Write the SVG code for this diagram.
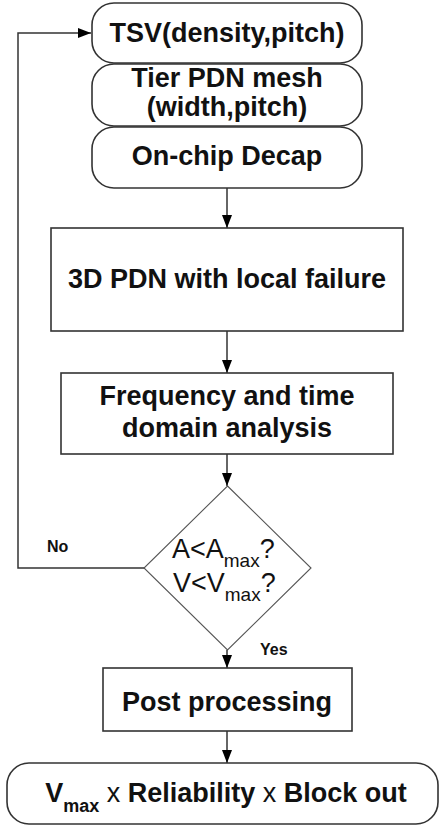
<svg xmlns="http://www.w3.org/2000/svg" width="439" height="826" viewBox="0 0 439 826">
<defs>
<marker id="ah" viewBox="0 0 13 10" markerWidth="13" markerHeight="10" refX="13" refY="5" orient="auto" markerUnits="userSpaceOnUse" overflow="visible">
<path d="M0,0 L13,5 L0,10 Z" fill="#000"/>
</marker>
<style>
.box{fill:#fff;stroke:#333;stroke-width:1.6}
.dia{fill:#fff;stroke:#555;stroke-width:1.1}
.t{font-family:"Liberation Sans",Arial,sans-serif;font-weight:bold;font-size:27px;fill:#111;text-anchor:middle}
.n{font-family:"Liberation Sans",Arial,sans-serif;font-size:27px;fill:#111}
.s{font-family:"Liberation Sans",Arial,sans-serif;font-weight:bold;font-size:16px;fill:#111}
.c{fill:none;stroke:#333;stroke-width:1.5}
</style>
</defs>
<g id="connectors">
<path class="c" d="M227,188 V228" marker-end="url(#ah)"/>
<path class="c" d="M227,331 V373" marker-end="url(#ah)"/>
<path class="c" d="M227,454 V486" marker-end="url(#ah)"/>
<path class="c" d="M227,650 V668" marker-end="url(#ah)"/>
<path class="c" d="M227,731 V763" marker-end="url(#ah)"/>
<path class="c" d="M144,568 H18 V33 H91" marker-end="url(#ah)"/>
<text class="s" x="47" y="552">No</text>
<text class="s" x="260" y="655">Yes</text>
</g>
<g id="tsv">
<rect class="box" x="92" y="3" width="270" height="60" rx="22"/>
<text class="t" x="227" y="42">TSV(density,pitch)</text>
</g>
<g id="mesh">
<rect class="box" x="92" y="64" width="270" height="62" rx="22"/>
<text class="t" x="227" y="87">Tier PDN mesh</text>
<text class="t" x="227" y="116">(width,pitch)</text>
</g>
<g id="decap">
<rect class="box" x="92" y="127" width="270" height="61" rx="22"/>
<text class="t" x="227" y="165">On-chip Decap</text>
</g>
<g id="pdn3d">
<rect class="box" x="51" y="228" width="352" height="103"/>
<text class="t" x="227" y="288">3D PDN with local failure</text>
</g>
<g id="analysis">
<rect class="box" x="61" y="373" width="332" height="81"/>
<text class="t" x="227" y="405">Frequency and time</text>
<text class="t" x="227" y="437">domain analysis</text>
</g>
<g id="decision">
<polygon class="dia" points="227.5,486 311,568 227.5,650 144,568"/>
<text class="n" x="172" y="558">A&lt;A<tspan font-size="19" dy="9">max</tspan><tspan dy="-9">?</tspan></text>
<text class="n" x="173" y="592">V&lt;V<tspan font-size="19" dy="9">max</tspan><tspan dy="-9">?</tspan></text>
</g>
<g id="post">
<rect class="box" x="103" y="668" width="249" height="63"/>
<text class="t" x="227" y="711">Post processing</text>
</g>
<g id="result">
<rect class="box" x="7" y="763" width="431" height="61" rx="22"/>
<text class="t" x="226" y="802">V<tspan font-size="18" dy="10">max</tspan><tspan dy="-10" font-weight="normal"> x </tspan>Reliability<tspan font-weight="normal"> x </tspan>Block out</text>
</g>
</svg>
